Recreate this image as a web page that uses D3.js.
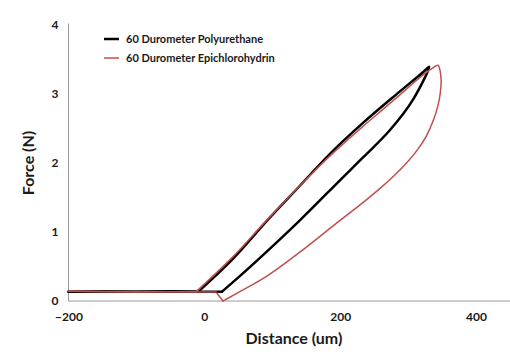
<!DOCTYPE html>
<html>
<head>
<meta charset="utf-8">
<script src="https://cdn.jsdelivr.net/npm/d3@7"></script>
<style>
  html, body { margin: 0; padding: 0; background: #fff; }
  svg { display: block; }
  text { font-family: Lato, "Open Sans", sans-serif; font-weight: bold; fill: #1a1a1a; }
</style>
</head>
<body>
<svg id="chart" width="510" height="358"></svg>
<script>
// ---- data ----
const seriesNames = ["60 Durometer Polyurethane", "60 Durometer Epichlorohydrin"];
const xTicks = [-200, 0, 200, 400];
const yTicks = [0, 1, 2, 3, 4];

// Polyurethane: approach, loading, unloading, return
const puDistance = [-200, -150, -100, -50, -9,
                    42, 92, 140, 185, 234, 284, 322, 331,
                    307, 273, 234, 200, 141, 67, 26,
                    -200];
const puForce    = [0.135, 0.14, 0.135, 0.14, 0.135,
                    0.61, 1.16, 1.66, 2.13, 2.58, 3.00, 3.31, 3.39,
                    2.91, 2.47, 2.08, 1.75, 1.17, 0.49, 0.135,
                    0.135];
const puSegments = [[0, 4, "linear"], [4, 19, "smooth"], [19, 20, "linear"]];

// Epichlorohydrin: approach, loading, unloading, return
const ecoDistance = [-200, -150, -100, -50, -12,
                     40, 92, 158, 185, 234, 259, 284, 322, 336, 344,
                     348.5, 347.5, 344, 337, 327, 314, 298, 280, 260, 238, 190, 141, 92, 57, 30, 27.5,
                     17, -200];
const ecoForce    = [0.14, 0.135, 0.13, 0.135, 0.135,
                     0.62, 1.17, 1.84, 2.10, 2.53, 2.74, 2.95, 3.27, 3.37, 3.41,
                     3.22, 3.02, 2.83, 2.61, 2.39, 2.19, 2.00, 1.82, 1.64, 1.46, 1.09, 0.71, 0.36, 0.16, 0.014, 0.0,
                     0.13, 0.14];
const ecoSegments = [[0, 4, "linear"], [4, 30, "smooth"], [30, 32, "linear"]];

const seriesColors = ["#000000", "#c0504d"];
const seriesWidths = [2.5, 1.5];

// ---- layout ----
const svg = d3.select("#chart");
const x = d3.scaleLinear().domain([-200, 450]).range([68.5, 510]);
const y = d3.scaleLinear().domain([0, 4]).range([301, 24.5]);

// axis lines
svg.append("line").attr("x1", x(-200)).attr("x2", x(-200)).attr("y1", y(4) - 1).attr("y2", y(0))
  .attr("stroke", "#9a9a9a").attr("stroke-width", 1);
svg.append("line").attr("x1", x(-200)).attr("x2", x(450)).attr("y1", y(0)).attr("y2", y(0))
  .attr("stroke", "#9a9a9a").attr("stroke-width", 1);

// axes (labels only)
const yAxis = svg.append("g").attr("transform", `translate(${x(-200)},0)`)
  .call(d3.axisLeft(y).tickValues(yTicks).tickFormat(d3.format("d")).tickSize(0).tickPadding(10));
const xAxis = svg.append("g").attr("transform", `translate(0,${y(0)})`)
  .call(d3.axisBottom(x).tickValues(xTicks).tickFormat(d3.format("d")).tickSize(0).tickPadding(11.5));
[yAxis, xAxis].forEach(g => {
  g.select(".domain").remove();
  g.selectAll("text").attr("font-size", 12).attr("font-family", "Lato, 'Open Sans', sans-serif")
    .attr("font-weight", "bold").attr("fill", "#1a1a1a");
});

// axis titles
svg.append("text").attr("x", 294).attr("y", 344).attr("text-anchor", "middle")
  .attr("font-size", 16).text("Distance (um)");
svg.append("text").attr("transform", "translate(34,163) rotate(-90)").attr("text-anchor", "middle")
  .attr("font-size", 16).text("Force (N)");

// series
const lineLinear = d3.line().x(d => x(d[0])).y(d => y(d[1])).curve(d3.curveLinear);
const lineSmooth = d3.line().x(d => x(d[0])).y(d => y(d[1])).curve(d3.curveCatmullRom.alpha(0.5));
const series = [
  { pts: d3.zip(puDistance, puForce), segs: puSegments },
  { pts: d3.zip(ecoDistance, ecoForce), segs: ecoSegments }
];
series.forEach((s, i) => {
  const g = svg.append("g");
  s.segs.forEach(([a, b, kind]) => {
    g.append("path").datum(s.pts.slice(a, b + 1))
      .attr("d", kind === "smooth" ? lineSmooth : lineLinear)
      .attr("fill", "none").attr("stroke", seriesColors[i]).attr("stroke-width", seriesWidths[i])
      .attr("stroke-linejoin", "round").attr("stroke-linecap", "round");
  });
});

// legend
const legend = svg.append("g");
seriesNames.forEach((name, i) => {
  const ly = 39 + i * 19;
  legend.append("line").attr("x1", 104).attr("x2", 119).attr("y1", ly).attr("y2", ly)
    .attr("stroke", seriesColors[i]).attr("stroke-width", i === 0 ? 2.5 : 1.5);
  legend.append("text").attr("x", 126).attr("y", ly + 4).attr("font-size", 11).text(name);
});
</script>
</body>
</html>
